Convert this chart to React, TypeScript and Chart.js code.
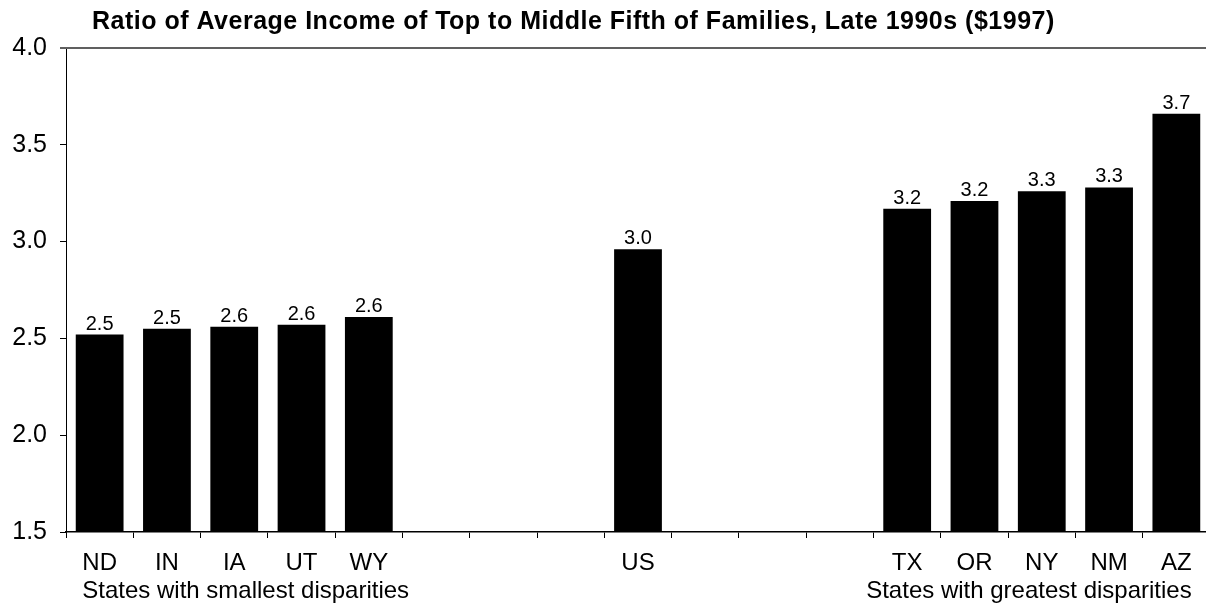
import React, { useEffect, useRef } from "react";
import { Chart, registerables } from "chart.js";

Chart.register(...registerables);

const categories = ["ND", "IN", "IA", "UT", "WY", "", "", "", "US", "", "", "", "TX", "OR", "NY", "NM", "AZ"];
const values = [2.52, 2.55, 2.56, 2.57, 2.61, null, null, null, 2.96, null, null, null, 3.17, 3.21, 3.26, 3.28, 3.66];
const valueLabels = ["2.5", "2.5", "2.6", "2.6", "2.6", "", "", "", "3.0", "", "", "", "3.2", "3.2", "3.3", "3.3", "3.7"];
const yMin = 1.5;
const yMax = 4.0;
const yStep = 0.5;
const title = "Ratio of Average Income of Top to Middle Fifth of Families, Late 1990s ($1997)";
const groupLabels = ["States with smallest disparities", "States with greatest disparities"];
const groupAnchors = [0, 16];

const FONT = "'Liberation Sans', Arial, sans-serif";
const TICK_SIZE = 24;

const decorPlugin = {
  id: "decor",
  afterDraw(chart: any) {
    const { ctx, chartArea } = chart;
    const xs = chart.scales.x;
    ctx.save();
    // top border line
    ctx.strokeStyle = "#606060";
    ctx.lineWidth = 2;
    ctx.beginPath();
    ctx.moveTo(chartArea.left - 6, chartArea.top);
    ctx.lineTo(chart.width, chartArea.top);
    ctx.stroke();

    // value labels
    const meta = chart.getDatasetMeta(0);
    ctx.fillStyle = "#000";
    ctx.font = `20px ${FONT}`;
    ctx.textAlign = "center";
    ctx.textBaseline = "alphabetic";
    meta.data.forEach((el: any, i: number) => {
      if (values[i] == null) return;
      ctx.fillText(valueLabels[i], el.x, el.y - 5);
    });

    // group labels
    ctx.font = `${TICK_SIZE}px ${FONT}`;
    const w0 = ctx.measureText(categories[groupAnchors[0]]).width;
    const w1 = ctx.measureText(categories[groupAnchors[1]]).width;
    ctx.font = `24px ${FONT}`;
    ctx.textBaseline = "middle";
    ctx.textAlign = "left";
    ctx.fillText(groupLabels[0], xs.getPixelForValue(groupAnchors[0]) - w0 / 2, 591);
    ctx.textAlign = "right";
    ctx.fillText(groupLabels[1], xs.getPixelForValue(groupAnchors[1]) + w1 / 2, 591);

    // title
    ctx.font = `bold 25px ${FONT}`;
    try { (ctx as any).letterSpacing = "0.5px"; } catch (e) {}
    ctx.textAlign = "left";
    ctx.textBaseline = "middle";
    ctx.fillText(title, 92, 22);
    ctx.restore();
  },
};

export default function App() {
  const ref = useRef<HTMLCanvasElement>(null);
  useEffect(() => {
    if (!ref.current) return;
    const chart = new Chart(ref.current, {
      type: "bar",
      data: {
        labels: categories,
        datasets: [
          {
            data: values as any,
            backgroundColor: "#000",
            borderWidth: 0,
            barPercentage: 0.71,
            categoryPercentage: 1,
          },
        ],
      },
      options: {
        animation: false,
        responsive: false,
        devicePixelRatio: 1,
        layout: { padding: { left: 0, right: 10, top: 48, bottom: 0 } },
        plugins: { legend: { display: false }, title: { display: false }, tooltip: { enabled: false } },
        scales: {
          x: {
            grid: { display: true, offset: true, drawOnChartArea: false, drawTicks: true, tickLength: 6, color: "#000", lineWidth: 1 },
            border: { display: true, color: "#000", width: 1.5 },
            ticks: { color: "#000", font: { family: FONT, size: TICK_SIZE }, padding: 11, maxRotation: 0, autoSkip: false },
            afterFit: (s: any) => { s.height = 76; },
          },
          y: {
            min: yMin,
            max: yMax,
            grid: { display: true, drawOnChartArea: false, drawTicks: true, tickLength: 6, color: "#000", lineWidth: 1 },
            border: { display: true, color: "#000", width: 1 },
            ticks: {
              stepSize: yStep,
              color: "#000",
              font: { family: FONT, size: 25 },
              padding: 13,
              callback: (v: any) => Number(v).toFixed(1),
            },
            afterFit: (s: any) => { s.width = 66; },
          },
        },
      },
      plugins: [decorPlugin],
    });
    return () => chart.destroy();
  }, []);
  return (
    <div style={{ position: "fixed", left: 0, top: 0, width: 1206, height: 608, overflow: "hidden", background: "#fff" }}>
      <canvas ref={ref} width={1220} height={608} style={{ display: "block" }} />
    </div>
  );
}
